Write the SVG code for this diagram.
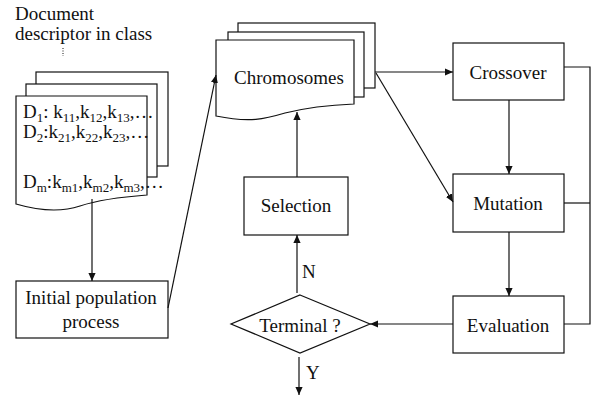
<svg xmlns="http://www.w3.org/2000/svg" width="591" height="398" viewBox="0 0 591 398">
<style>
text{font-family:'Liberation Serif','Times New Roman','Nimbus Roman','DejaVu Serif',serif;font-size:19px;fill:#111}
.box{fill:#fff;stroke:#111;stroke-width:1.2}
.ln{fill:none;stroke:#111;stroke-width:1.2}
.c{text-anchor:middle}
.sub{font-size:13px}
</style>
<defs>
<marker id="ah" viewBox="0 0 10 10" refX="10" refY="5" markerWidth="8" markerHeight="8" markerUnits="userSpaceOnUse" orient="auto">
<path d="M0,0.5 L10,5 L0,9.5 Z" fill="#111"/>
</marker>
</defs>
<rect width="591" height="398" fill="#fff"/>

<g id="doc-label">
<text x="15" y="20">Document</text>
<text x="15" y="40">descriptor in class</text>
<line x1="63" y1="48" x2="63" y2="56" stroke="#111" stroke-width="1" stroke-dasharray="1,1.5"/>
</g>

<g id="documents">
<rect class="box" x="36" y="72" width="132" height="94"/>
<rect class="box" x="26" y="84" width="131" height="93"/>
<path class="box" d="M16,96 H147 V195 C120,197 95,201 80,206 C62,212 40,211 16,204 Z"/>
<text x="23" y="118">D<tspan class="sub" dy="4">1</tspan><tspan dy="-4">: k</tspan><tspan class="sub" dy="4">11</tspan><tspan dy="-4">,k</tspan><tspan class="sub" dy="4">12</tspan><tspan dy="-4">,k</tspan><tspan class="sub" dy="4">13</tspan><tspan dy="-4">,…</tspan></text>
<text x="23" y="138">D<tspan class="sub" dy="4">2</tspan><tspan dy="-4">:k</tspan><tspan class="sub" dy="4">21</tspan><tspan dy="-4">,k</tspan><tspan class="sub" dy="4">22</tspan><tspan dy="-4">,k</tspan><tspan class="sub" dy="4">23</tspan><tspan dy="-4">,…</tspan></text>
<text x="23" y="188">D<tspan class="sub" dy="4">m</tspan><tspan dy="-4">:k</tspan><tspan class="sub" dy="4">m1</tspan><tspan dy="-4">,k</tspan><tspan class="sub" dy="4">m2</tspan><tspan dy="-4">,k</tspan><tspan class="sub" dy="4">m3</tspan><tspan dy="-4">,…</tspan></text>
</g>

<g id="initial">
<rect class="box" x="16" y="281" width="152" height="57"/>
<text class="c" x="91" y="304">Initial population</text>
<text class="c" x="91" y="328">process</text>
</g>

<g id="chromosomes">
<rect class="box" x="238" y="23" width="137" height="65"/>
<rect class="box" x="228" y="32" width="136" height="65"/>
<path class="box" d="M216,40 H354 V104 C330,105 305,108 285,113 C265,119 250,123 216,116 Z"/>
<text class="c" x="289" y="84">Chromosomes</text>
</g>

<g id="selection">
<rect class="box" x="244" y="177" width="104" height="58"/>
<text class="c" x="296" y="212">Selection</text>
</g>

<g id="crossover">
<rect class="box" x="453" y="43" width="111" height="57"/>
<text class="c" x="508" y="79">Crossover</text>
</g>

<g id="mutation">
<rect class="box" x="453" y="174" width="111" height="58"/>
<text class="c" x="508" y="210">Mutation</text>
</g>

<g id="evaluation">
<rect class="box" x="453" y="296" width="111" height="57"/>
<text class="c" x="508" y="332">Evaluation</text>
</g>

<g id="terminal">
<path class="box" d="M300,295 L370,324 L300,353 L231,324 Z"/>
<text class="c" x="300" y="332">Terminal ?</text>
</g>

<g id="connectors">
<line class="ln" x1="92" y1="199" x2="92" y2="281" marker-end="url(#ah)"/>
<line class="ln" x1="168" y1="308" x2="216" y2="75" marker-end="url(#ah)"/>
<line class="ln" x1="297" y1="177" x2="297" y2="112" marker-end="url(#ah)"/>
<line class="ln" x1="375" y1="72" x2="453" y2="72" marker-end="url(#ah)"/>
<line class="ln" x1="376" y1="73" x2="453" y2="202" marker-end="url(#ah)"/>
<line class="ln" x1="509" y1="100" x2="509" y2="174" marker-end="url(#ah)"/>
<line class="ln" x1="509" y1="232" x2="509" y2="296" marker-end="url(#ah)"/>
<polyline class="ln" points="564,67 590,67 590,324 564,324"/>
<line class="ln" x1="564" y1="203" x2="590" y2="203"/>
<line class="ln" x1="453" y1="324" x2="370" y2="324" marker-end="url(#ah)"/>
<line class="ln" x1="297" y1="293" x2="297" y2="235" marker-end="url(#ah)"/>
<line class="ln" x1="299" y1="357" x2="299" y2="395" marker-end="url(#ah)"/>
<text x="302" y="278">N</text>
<text x="306" y="379">Y</text>
</g>
</svg>
